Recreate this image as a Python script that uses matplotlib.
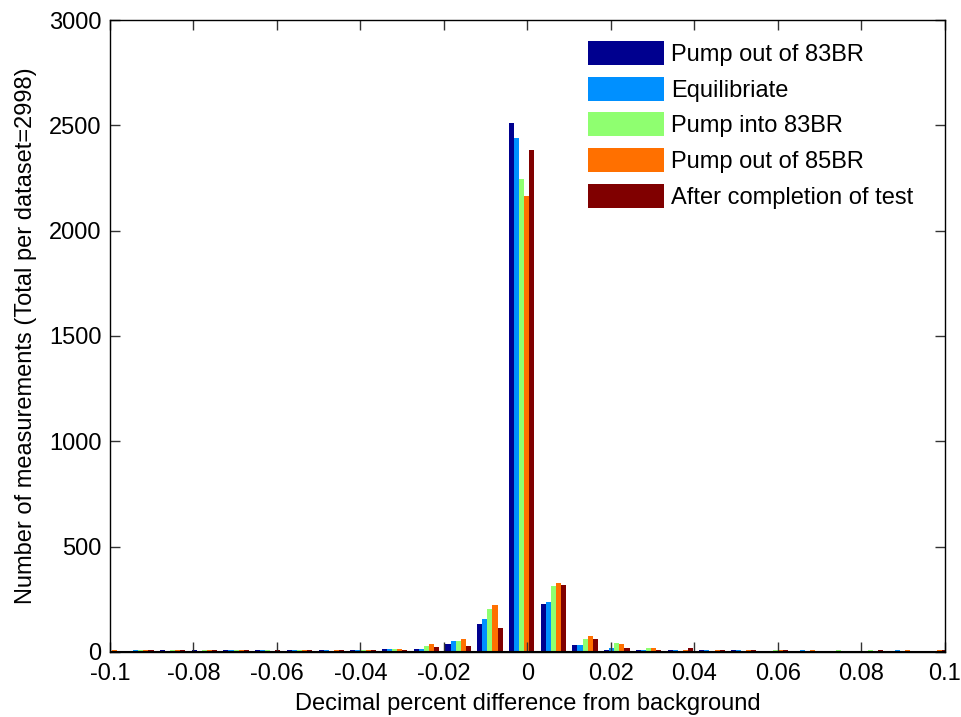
import numpy as np
import matplotlib
matplotlib.use('Agg')
import matplotlib.pyplot as plt

plt.rcParams['font.family'] = ['Liberation Sans', 'DejaVu Sans']

# histogram bin centres (decimal percent difference)
bin_centers = [-0.1002, -0.0926, -0.0850, -0.0774, -0.0698, -0.0622, -0.0546,
               -0.0470, -0.0394, -0.0318, -0.0242, -0.0166, -0.0090, -0.0014,
               0.0062, 0.0138, 0.0214, 0.0290, 0.0366, 0.0442, 0.0518,
               0.0594, 0.0670, 0.0746, 0.0822, 0.0898, 0.0974]

pump_out_83 = [3, 4, 9, 9, 9, 9, 9, 9, 9, 15, 16, 37, 131, 2510, 230, 35, 10, 9, 8, 9, 9, 3, 3, 3, 3, 3, 2]
equilibrate = [3, 9, 5, 5, 9, 9, 9, 9, 9, 15, 16, 53, 158, 2440, 238, 35, 17, 7, 8, 9, 9, 4, 9, 3, 5, 9, 3]
pump_into_83 = [3, 9, 9, 9, 9, 9, 9, 5, 9, 15, 26, 53, 202, 2245, 311, 61, 44, 17, 5, 4, 5, 8, 3, 9, 9, 4, 5]
pump_out_85 = [9, 9, 9, 9, 9, 5, 9, 9, 9, 15, 36, 63, 221, 2165, 329, 77, 36, 17, 8, 9, 9, 9, 9, 5, 3, 9, 9]
after_test = [5, 9, 9, 9, 9, 9, 9, 9, 9, 8, 25, 26, 115, 2385, 320, 61, 18, 10, 18, 9, 9, 8, 4, 3, 9, 3, 8]

labels = ['Pump out of 83BR', 'Equilibriate', 'Pump into 83BR',
          'Pump out of 85BR', 'After completion of test']
colors = ['#00008F', '#0090FF', '#8FFF70', '#FF7000', '#800000']
series = [pump_out_83, equilibrate, pump_into_83, pump_out_85, after_test]

x_ticks = [-0.1, -0.08, -0.06, -0.04, -0.02, 0, 0.02, 0.04, 0.06, 0.08, 0.1]
y_ticks = [0, 500, 1000, 1500, 2000, 2500, 3000]

fig = plt.figure(figsize=(9.62, 7.17), dpi=100)
ax = fig.add_axes([0.1143, 0.0907, 0.8680, 0.8814])

x = np.array(bin_centers)
spacing = x[1] - x[0]
w = 0.8 * spacing / len(series)
for i, (vals, c, lab) in enumerate(zip(series, colors, labels)):
    ax.bar(x + (i - 2) * w, vals, width=w, color=c, label=lab, linewidth=0)

# matlab style baseline
ax.axhline(0, color='black', linewidth=1.5, zorder=3)

ax.set_xlim(-0.1, 0.1)
ax.set_ylim(0, 3000)
ax.set_xticks(x_ticks)
ax.set_xticklabels(['%g' % t for t in x_ticks])
ax.set_yticks(y_ticks)
ax.tick_params(direction='in', length=7, width=1, labelsize=17,
               top=True, right=True, color='#333333')
ax.tick_params(axis='x', pad=8)
ax.tick_params(axis='y', pad=6)
for s in ax.spines.values():
    s.set_linewidth(1)

ax.set_xlabel('Decimal percent difference from background', fontsize=17, labelpad=6)
ax.set_ylabel('Number of measurements (Total per dataset=2998)', fontsize=17, labelpad=9)

ax.legend(loc='upper left', bbox_to_anchor=(0.5725, 0.967), frameon=False,
          fontsize=17, handlelength=3.2, handleheight=1.2, labelspacing=0.45,
          handletextpad=0.3, borderpad=0, borderaxespad=0)

fig.savefig('out.png', dpi=100)
